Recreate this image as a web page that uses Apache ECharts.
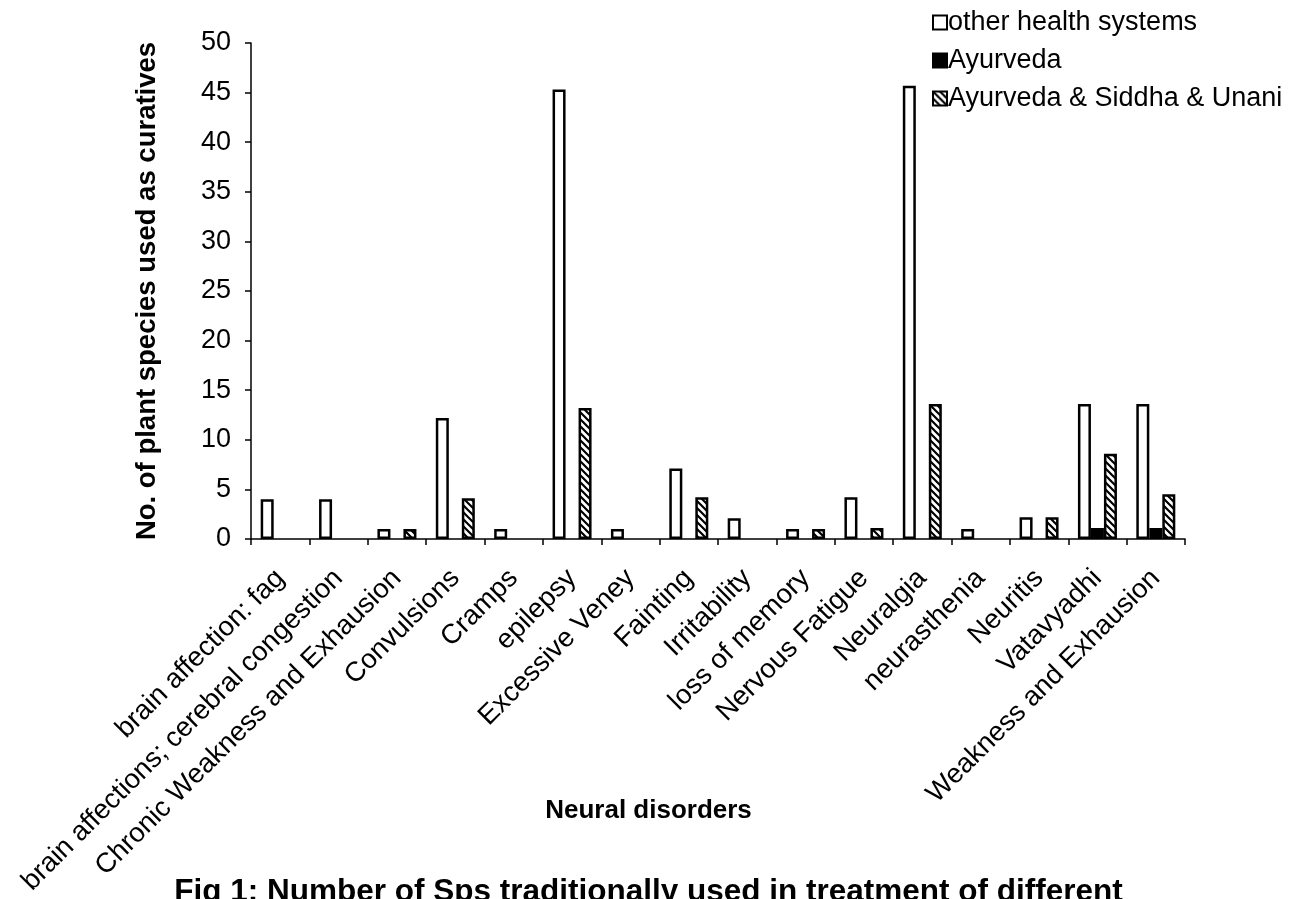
<!DOCTYPE html>
<html>
<head>
<meta charset="utf-8">
<script src="https://cdn.jsdelivr.net/npm/echarts@6/dist/echarts.min.js"></script>
<style>
  html, body { margin: 0; padding: 0; background: #fff; }
  #chart { width: 1297px; height: 899px; }
</style>
</head>
<body>
<div id="chart"></div>
<script>
// Neural disorders and the number of plant species used for each
const categories = [
  'brain affection: fag',
  'brain affections; cerebral congestion',
  'Chronic Weakness and Exhausion',
  'Convulsions',
  'Cramps',
  'epilepsy',
  'Excessive Veney',
  'Fainting',
  'Irritability',
  'loss of memory',
  'Nervous Fatigue',
  'Neuralgia',
  'neurasthenia',
  'Neuritis',
  'Vatavyadhi',
  'Weakness and Exhausion'
];
const otherSystems = [4, 4, 1, 12.2, 1, 45.3, 1, 7.1, 2.1, 1, 4.2, 45.7, 1, 2.2, 13.6, 13.6];
const ayurveda     = [0, 0, 0, 0, 0, 0, 0, 0, 0, 0, 0, 0, 0, 0, 1.1, 1.1];
const ayurSiddhaUnani = [0, 0, 1, 4.1, 0, 13.2, 0, 4.2, 0, 1, 1.1, 13.6, 0, 2.2, 8.6, 4.5];
const yTicks = [0, 50, 5]; // min, max, interval

const seriesNames = ['other health systems', 'Ayurveda', 'Ayurveda & Siddha & Unani'];

// empty cells are left blank instead of drawing a flat bar on the axis
const asBars = arr => arr.map(v => (v === 0 ? '-' : v));

// diagonal hatch fill for the combined-systems bars
function hatchPattern() {
  const c = document.createElement('canvas');
  c.width = 7; c.height = 7;
  const g = c.getContext('2d');
  g.fillStyle = '#fff';
  g.fillRect(0, 0, 7, 7);
  g.strokeStyle = '#000';
  g.lineWidth = 2.2;
  g.beginPath();
  g.moveTo(-1, -1); g.lineTo(8, 8);
  g.moveTo(-1, 6); g.lineTo(1, 8);
  g.moveTo(6, -1); g.lineTo(8, 1);
  g.stroke();
  return c;
}

const font = '"Liberation Sans", Arial, sans-serif';
const chart = echarts.init(document.getElementById('chart'), null, { renderer: 'canvas' });

const barBase = {
  type: 'bar',
  barWidth: 13,
  barGap: '0%',
  animation: false
};

chart.setOption({
  backgroundColor: '#fff',
  textStyle: { fontFamily: font, color: '#000' },
  title: [
    {
      // x-axis caption
      text: 'Neural disorders',
      left: 'center',
      top: 793,
      textStyle: { fontFamily: font, fontSize: 26, fontWeight: 'bold', color: '#000' }
    },
    {
      text: 'Fig 1: Number of Sps traditionally used in treatment of different',
      left: 'center',
      top: 871,
      textStyle: { fontFamily: font, fontSize: 31.5, fontWeight: 'bold', color: '#000' }
    }
  ],
  legend: {
    orient: 'vertical',
    left: 927,
    top: 4,
    itemWidth: 14,
    itemHeight: 14,
    itemGap: 11,
    icon: 'rect',
    textStyle: { fontFamily: font, fontSize: 27, color: '#000', padding: [0, 0, 0, -4] },
    data: seriesNames
  },
  grid: { left: 251, right: 112, top: 43, bottom: 360, containLabel: false },
  xAxis: {
    type: 'category',
    data: categories,
    axisLine: { lineStyle: { color: '#000', width: 1.5 } },
    axisTick: { show: true, length: 6, lineStyle: { color: '#000', width: 1.5 } },
    axisLabel: {
      interval: 0,
      rotate: 45,
      fontFamily: font,
      fontSize: 27.5,
      color: '#000',
      margin: 35
    }
  },
  yAxis: {
    type: 'value',
    min: yTicks[0],
    max: yTicks[1],
    interval: yTicks[2],
    name: 'No. of plant species used as curatives',
    nameLocation: 'middle',
    nameGap: 90,
    nameTextStyle: { fontFamily: font, fontSize: 27.5, fontWeight: 'bold', color: '#000' },
    axisLine: { show: true, lineStyle: { color: '#000', width: 1.5 } },
    axisTick: { show: true, length: 6, lineStyle: { color: '#000', width: 1.5 } },
    axisLabel: { fontFamily: font, fontSize: 27, color: '#000', margin: 20 },
    splitLine: { show: false }
  },
  series: [
    Object.assign({}, barBase, {
      name: seriesNames[0],
      data: asBars(otherSystems),
      itemStyle: { color: '#fff', borderColor: '#000', borderWidth: 2.5 }
    }),
    Object.assign({}, barBase, {
      name: seriesNames[1],
      data: asBars(ayurveda),
      itemStyle: { color: '#000', borderColor: '#000', borderWidth: 2.5 }
    }),
    Object.assign({}, barBase, {
      name: seriesNames[2],
      data: asBars(ayurSiddhaUnani),
      itemStyle: {
        color: { image: hatchPattern(), repeat: 'repeat' },
        borderColor: '#000',
        borderWidth: 2.5
      }
    })
  ]
});
</script>
</body>
</html>
